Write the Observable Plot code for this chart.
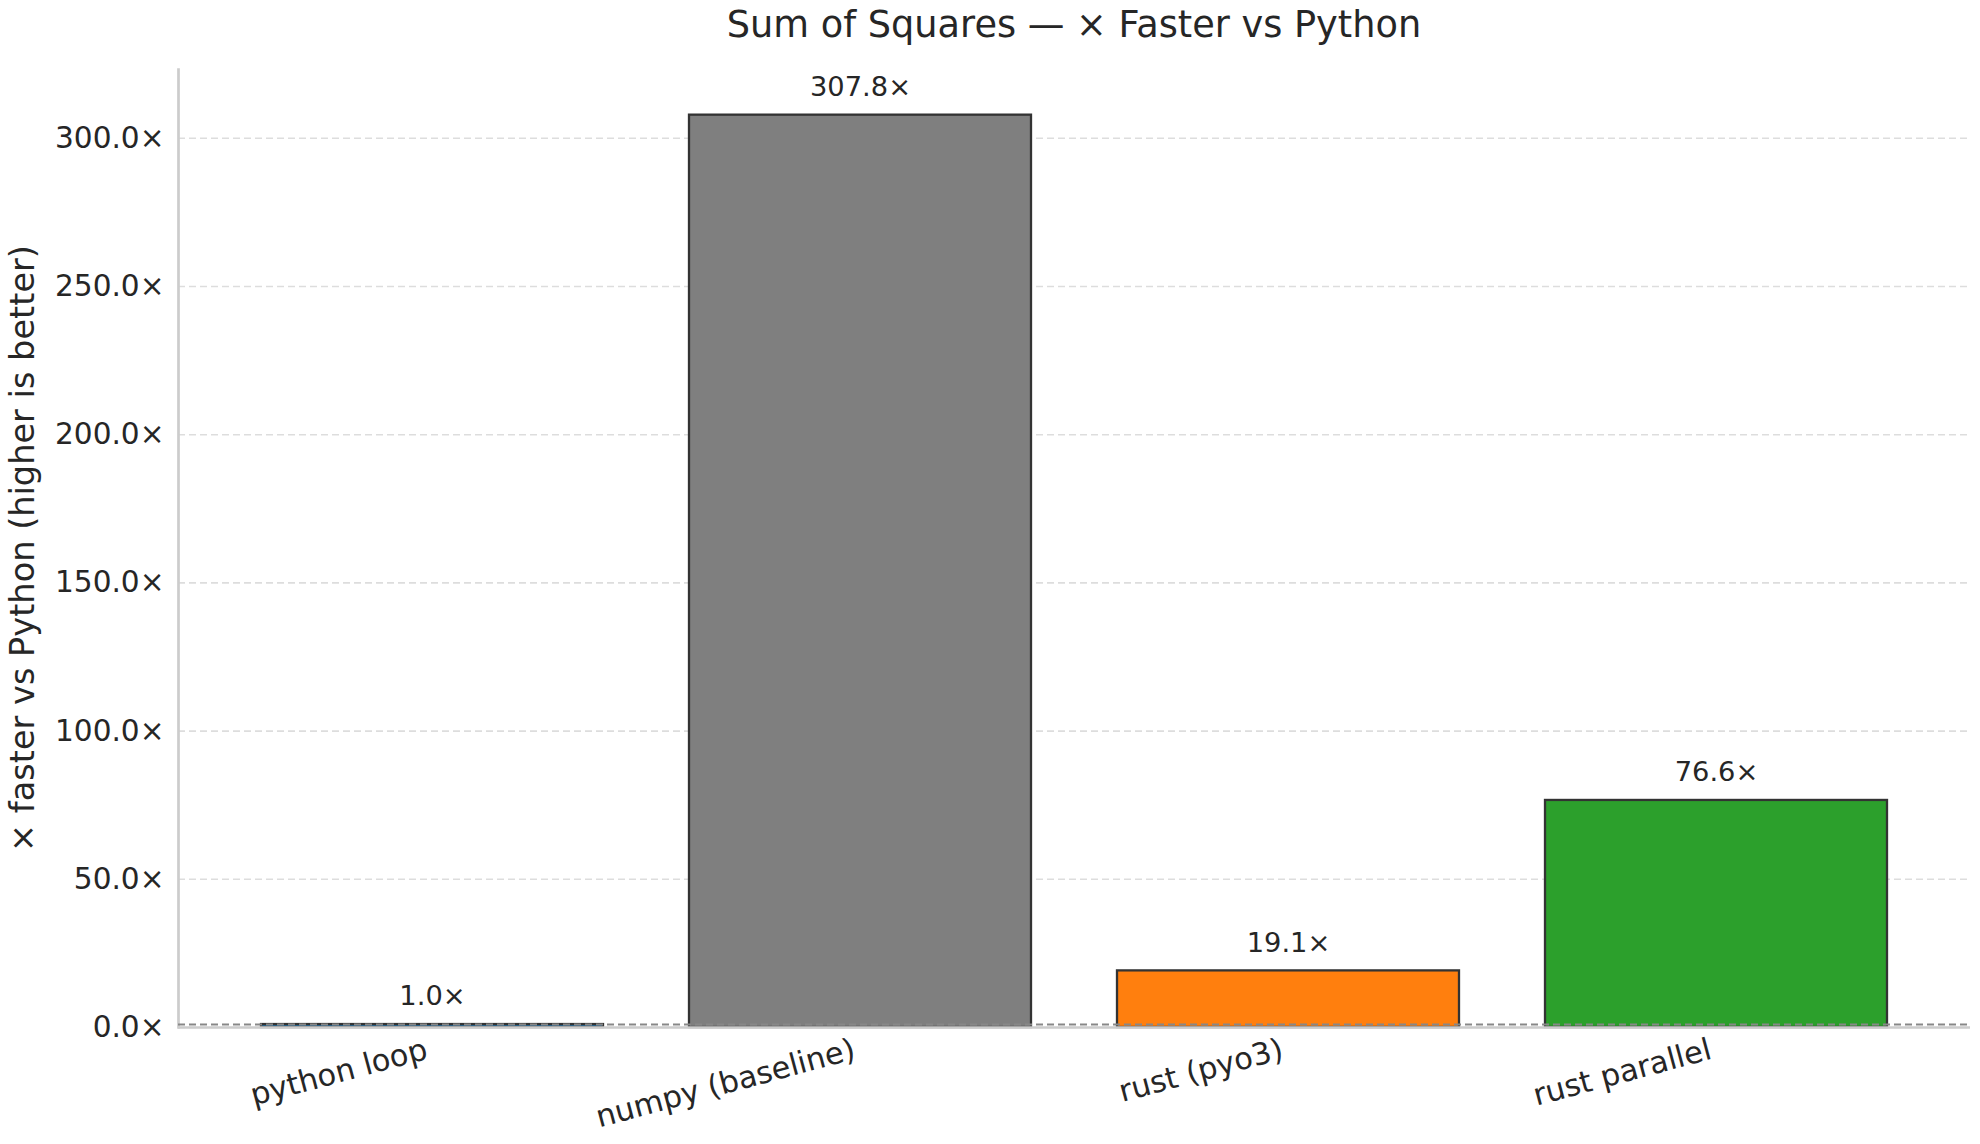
<!DOCTYPE html>
<html>
<head>
<meta charset="utf-8">
<script src="https://cdn.jsdelivr.net/npm/d3@7"></script>
<script src="https://cdn.jsdelivr.net/npm/@observablehq/plot@0.6"></script>
<style>
  html, body { margin: 0; padding: 0; background: #fff; }
  #title {
    height: 50px; line-height: 50px; box-sizing: border-box;
    padding-left: 178px; padding-right: 10px; text-align: center;
    font-family: "DejaVu Sans", sans-serif; font-size: 36.7px; color: #262626;
    white-space: nowrap;
  }
  svg { display: block; }
</style>
</head>
<body>
<div id="title">Sum of Squares — × Faster vs Python</div>
<div id="chart"></div>
<script>
const categories = ["python loop", "numpy (baseline)", "rust (pyo3)", "rust parallel"];
const speedups = [1.0, 307.8, 19.1, 76.6];
const barColors = ["#1f77b4", "#7f7f7f", "#ff7f0e", "#2ca02c"];
const yTicks = [0, 50, 100, 150, 200, 250, 300];
const yMax = 323.2;
const referenceLine = [1.0];
const yLabel = "× faster vs Python (higher is better)";

const data = categories.map((c, i) => ({name: c, value: speedups[i], color: barColors[i]}));
const fmt = v => v.toFixed(1) + "×";

const chart = Plot.plot({
  width: 1980,
  height: 1094,
  marginTop: 19,
  marginBottom: 117,
  marginLeft: 178,
  marginRight: 10,
  style: {fontFamily: "DejaVu Sans, sans-serif", color: "#262626", background: "#fff"},
  x: {domain: categories, paddingInner: 0.2, paddingOuter: 0.19, align: 0.5, label: null},
  y: {domain: [0, yMax], label: null},
  marks: [
    Plot.gridY(yTicks, {stroke: "#dddddd", strokeOpacity: 1, strokeWidth: 1.6, strokeDasharray: "7,4"}),
    Plot.barY(data, {x: "name", y: "value", fill: "color", stroke: "#333333", strokeWidth: 2.3}),
    Plot.frame({anchor: "left", stroke: "#cccccc", strokeWidth: 2.7}),
    Plot.ruleY([0], {stroke: "#cccccc", strokeWidth: 2.7}),
    Plot.ruleY(referenceLine, {stroke: "#888888", strokeWidth: 2, strokeDasharray: "7,4"}),
    Plot.text(data, {x: "name", y: "value", text: d => fmt(d.value), dy: -28, lineAnchor: "middle", fontSize: 27.3, fill: "#262626"}),
    Plot.axisY({ticks: yTicks, tickFormat: fmt, tickSize: 0, tickPadding: 14, fontSize: 29.6, label: null}),
    Plot.axisX({tickSize: 0, tickRotate: -15, tickPadding: 10, dx: -9, textAnchor: "end", lineAnchor: "top", fontSize: 30.5, label: null}),
    Plot.text([yLabel], {frameAnchor: "left", dx: -155, rotate: -90, text: d => d, fontSize: 33.6, fill: "#262626", lineAnchor: "middle", textAnchor: "middle"})
  ]
});
document.getElementById("chart").appendChild(chart);
</script>
</body>
</html>
